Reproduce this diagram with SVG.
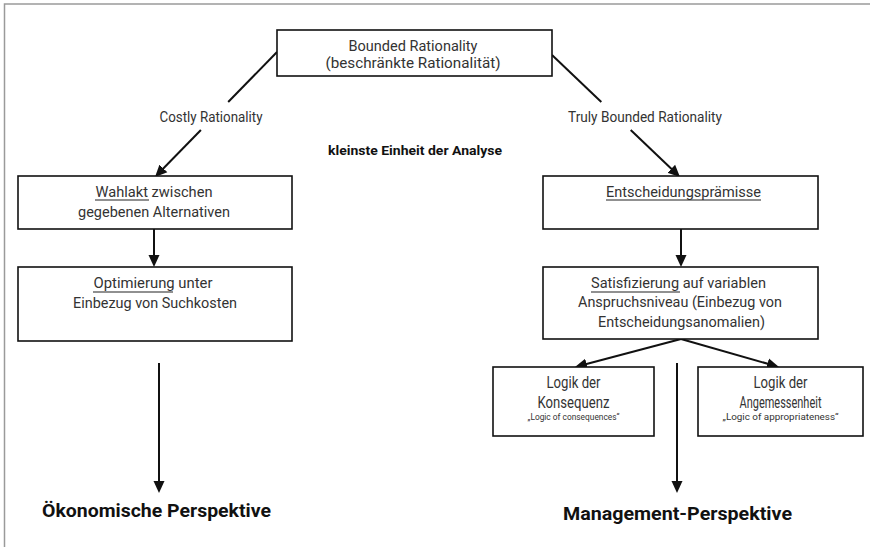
<svg xmlns="http://www.w3.org/2000/svg" width="870" height="547" viewBox="0 0 870 547">
  <style>
    .frame { stroke: #9a9a9a; stroke-width: 1.5; fill: none; }
    .box { fill: #ffffff; stroke: #111111; stroke-width: 1.6; }
    .t { font-family: Roboto, "Liberation Sans", sans-serif; font-size: 15px; fill: #333333; text-anchor: middle; }
    .big { font-size: 17px; }
    .small { font-size: 9px; }
    .bold { font-family: Roboto, "Liberation Sans", sans-serif; font-weight: bold; fill: #111111; }
    .ul { stroke: #222222; stroke-width: 1.2; }
    .conn { stroke: #111111; stroke-width: 2; fill: none; }
    .arr { marker-end: url(#ah); }
  </style>
  <defs>
    <marker id="ah" viewBox="0 0 12 12" refX="4" refY="6" markerWidth="12" markerHeight="12" markerUnits="userSpaceOnUse" orient="auto">
      <path d="M0,0.5 L12,6 L0,11.5 z" fill="#111111"/>
    </marker>
  </defs>

  <rect width="870" height="547" fill="#ffffff"/>
  <!-- page frame -->
  <path class="frame" d="M4.5,547 V4 H870"/>

  <!-- connectors -->
  <g id="connectors">
    <line class="conn" x1="277" y1="52" x2="228.2" y2="102"/>
    <line class="conn arr" x1="200.9" y1="130" x2="160.6" y2="171.3"/>
    <line class="conn" x1="552" y1="55" x2="601.3" y2="102"/>
    <line class="conn arr" x1="630.7" y1="130" x2="674.2" y2="171.5"/>
    <line class="conn arr" x1="154" y1="229" x2="154" y2="259"/>
    <line class="conn arr" x1="681" y1="229" x2="681" y2="259"/>
    <line class="conn arr" x1="681" y1="339" x2="582.7" y2="365"/>
    <line class="conn arr" x1="681" y1="339" x2="771.3" y2="364.8"/>
    <line class="conn arr" x1="159" y1="363" x2="159" y2="485"/>
    <line class="conn arr" x1="677" y1="363" x2="677" y2="485"/>
  </g>

  <!-- edge labels -->
  <g id="labels">
    <text class="t" x="211" y="122" textLength="103" lengthAdjust="spacingAndGlyphs">Costly Rationality</text>
    <text class="t" x="645" y="122" textLength="154" lengthAdjust="spacingAndGlyphs">Truly Bounded Rationality</text>
    <text class="bold" x="415" y="155" font-size="13" text-anchor="middle" textLength="174" lengthAdjust="spacingAndGlyphs">kleinste Einheit der Analyse</text>
  </g>

  <g id="bounded-rationality">
    <rect class="box" x="277" y="30" width="275" height="46"/>
    <text class="t" x="413" y="51" textLength="129" lengthAdjust="spacingAndGlyphs">Bounded Rationality</text>
    <text class="t" x="413" y="68" textLength="175" lengthAdjust="spacingAndGlyphs">(beschränkte Rationalität)</text>
  </g>

  <g id="wahlakt">
    <rect class="box" x="18" y="176" width="274" height="53"/>
    <text class="t" x="154" y="197" textLength="117" lengthAdjust="spacingAndGlyphs">Wahlakt zwischen</text>
    <line class="ul" x1="95" y1="200" x2="149" y2="200"/>
    <text class="t" x="154" y="217" textLength="152" lengthAdjust="spacingAndGlyphs">gegebenen Alternativen</text>
  </g>

  <g id="optimierung">
    <rect class="box" x="18" y="267" width="274" height="74"/>
    <text class="t" x="153" y="288" textLength="119" lengthAdjust="spacingAndGlyphs">Optimierung unter</text>
    <line class="ul" x1="93" y1="292" x2="173" y2="292"/>
    <text class="t" x="155" y="308" textLength="164" lengthAdjust="spacingAndGlyphs">Einbezug von Suchkosten</text>
  </g>

  <g id="entscheidungspraemisse">
    <rect class="box" x="543" y="176" width="275" height="53"/>
    <text class="t" x="683.5" y="197" textLength="155" lengthAdjust="spacingAndGlyphs">Entscheidungsprämisse</text>
    <line class="ul" x1="606" y1="200" x2="761" y2="200"/>
  </g>

  <g id="satisfizierung">
    <rect class="box" x="543" y="267" width="275" height="72"/>
    <text class="t" x="678.5" y="288" textLength="175" lengthAdjust="spacingAndGlyphs">Satisfizierung auf variablen</text>
    <line class="ul" x1="591" y1="292" x2="680" y2="292"/>
    <text class="t" x="680" y="307" textLength="204" lengthAdjust="spacingAndGlyphs">Anspruchsniveau (Einbezug von</text>
    <text class="t" x="681.5" y="327" textLength="167" lengthAdjust="spacingAndGlyphs">Entscheidungsanomalien)</text>
  </g>

  <g id="logik-konsequenz">
    <rect class="box" x="493" y="367" width="161" height="69"/>
    <text class="t big" x="573.5" y="388" textLength="54" lengthAdjust="spacingAndGlyphs">Logik der</text>
    <text class="t big" x="573.5" y="408" textLength="72" lengthAdjust="spacingAndGlyphs">Konsequenz</text>
    <text class="t small" x="573.5" y="420" textLength="92" lengthAdjust="spacingAndGlyphs">„Logic of consequences“</text>
  </g>

  <g id="logik-angemessenheit">
    <rect class="box" x="698" y="367" width="165" height="69"/>
    <text class="t big" x="780.5" y="388" textLength="54" lengthAdjust="spacingAndGlyphs">Logik der</text>
    <text class="t big" x="780.5" y="408" textLength="82" lengthAdjust="spacingAndGlyphs">Angemessenheit</text>
    <text class="t small" x="780.5" y="420" textLength="116" lengthAdjust="spacingAndGlyphs">„Logic of appropriateness“</text>
  </g>

  <g id="oekonomische-perspektive">
    <text class="bold" x="42" y="517" font-size="19" textLength="229" lengthAdjust="spacingAndGlyphs">Ökonomische Perspektive</text>
  </g>

  <g id="management-perspektive">
    <text class="bold" x="563" y="520" font-size="19" textLength="229" lengthAdjust="spacingAndGlyphs">Management-Perspektive</text>
  </g>
</svg>
